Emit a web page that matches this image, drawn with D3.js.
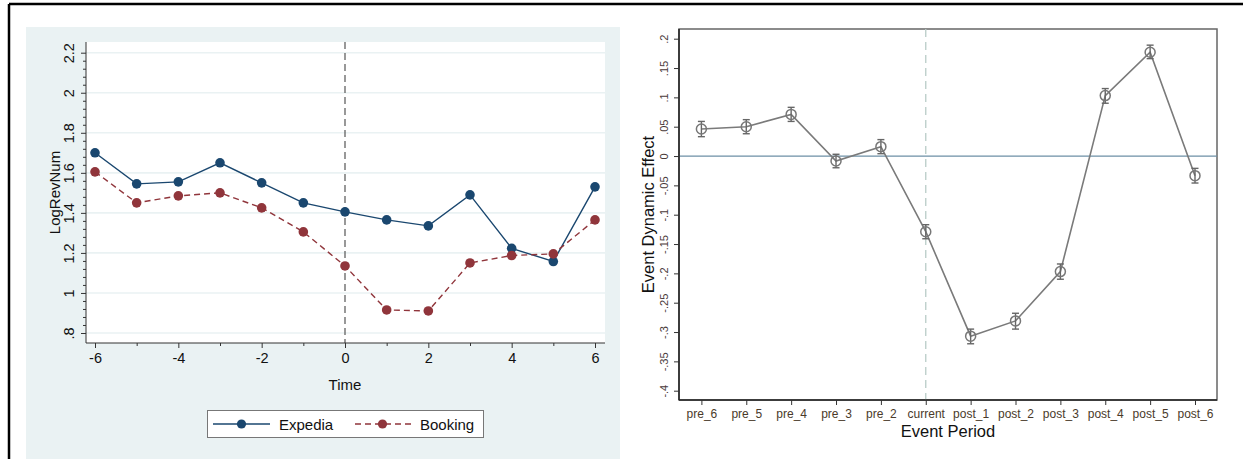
<!DOCTYPE html>
<html><head><meta charset="utf-8">
<script src="https://cdn.jsdelivr.net/npm/d3@7"></script>
<style>
html,body{margin:0;padding:0;background:#fff;}
svg{display:block;font-family:"Liberation Sans",Arial,sans-serif;}
</style></head>
<body>
<svg id="c" width="1243" height="459"></svg>
<script>
// ---------- Data: left panel ----------
const times = [-6,-5,-4,-3,-2,-1,0,1,2,3,4,5,6];
const expedia = [1.70,1.545,1.555,1.65,1.55,1.45,1.405,1.365,1.335,1.49,1.223,1.157,1.53];
const booking = [1.605,1.45,1.485,1.50,1.425,1.305,1.135,0.915,0.91,1.15,1.187,1.195,1.365];
const leftYTicks = [0.8,1.0,1.2,1.4,1.6,1.8,2.0,2.2];
const leftYTickLabels = [".8","1","1.2","1.4","1.6","1.8","2","2.2"];
const leftXTicks = [-6,-4,-2,0,2,4,6];
const seriesNames = ["Expedia","Booking"];

// ---------- Data: right panel ----------
const periods = ["pre_6","pre_5","pre_4","pre_3","pre_2","current","post_1","post_2","post_3","post_4","post_5","post_6"];
const effect = [0.046,0.050,0.071,-0.0085,0.016,-0.129,-0.307,-0.281,-0.197,0.103,0.177,-0.0335];
const ciLow  = [0.033,0.038,0.059,-0.020,0.004,-0.141,-0.320,-0.295,-0.210,0.090,0.166,-0.046];
const ciHigh = [0.059,0.062,0.083,0.003,0.028,-0.117,-0.295,-0.268,-0.184,0.115,0.189,-0.021];
const rightYTicks = [0.2,0.15,0.1,0.05,0,-0.05,-0.1,-0.15,-0.2,-0.25,-0.3,-0.35,-0.4];
const rightYTickLabels = [".2",".15",".1",".05","0","-.05","-.1","-.15","-.2","-.25","-.3","-.35","-.4"];

const svg = d3.select("#c");

// outer frame lines
svg.append("line").attr("x1",9).attr("x2",1243).attr("y1",4).attr("y2",4).attr("stroke","#000").attr("stroke-width",2.5);
svg.append("line").attr("x1",9).attr("x2",9).attr("y1",4).attr("y2",459).attr("stroke","#000").attr("stroke-width",2.5);

// ================= LEFT PANEL =================
const bg = "#eaf2f3";
svg.append("rect").attr("x",26).attr("y",27).attr("width",594).attr("height",432).attr("fill",bg);
const pL = {l:86, r:605, t:42, b:343};
svg.append("rect").attr("x",pL.l).attr("y",pL.t).attr("width",pL.r-pL.l).attr("height",pL.b-pL.t).attr("fill","#fff");

const xL = d3.scaleLinear().domain([-6,6]).range([95,595]);
const yL = d3.scaleLinear().domain([0.8,2.2]).range([333,52.7]);

// gridlines
svg.append("g").selectAll("line").data(leftYTicks).join("line")
  .attr("x1",pL.l).attr("x2",pL.r).attr("y1",d=>yL(d)).attr("y2",d=>yL(d))
  .attr("stroke",bg).attr("stroke-width",1.6);

// vertical dashed line at 0
svg.append("line").attr("x1",xL(0)).attr("x2",xL(0)).attr("y1",pL.t).attr("y2",pL.b)
  .attr("stroke","#555").attr("stroke-width",1.2).attr("stroke-dasharray","7,4");

// y axis
const yAxisL = svg.append("g").attr("transform",`translate(${pL.l},0)`)
  .call(d3.axisLeft(yL).tickValues(leftYTicks).tickSize(5).tickFormat((d,i)=>leftYTickLabels[i]));
const yMinor = d3.range(0.84,2.2,0.04).filter(v=>Math.abs(Math.round(v*5)-v*5)>0.01);
svg.append("g").attr("transform",`translate(${pL.l},0)`)
  .call(d3.axisLeft(yL).tickValues(yMinor).tickSize(3).tickFormat(""))
  .call(g=>g.select(".domain").remove());
yAxisL.select(".domain").attr("d",`M0,${pL.t}V${pL.b}`);
yAxisL.selectAll(".tick text").attr("transform","rotate(-90)").attr("x",0).attr("y",-12)
  .attr("dy",0).attr("text-anchor","middle").style("font-size","14.5px").attr("fill","#111");

// x axis
const xAxisL = svg.append("g").attr("transform",`translate(0,${pL.b})`)
  .call(d3.axisBottom(xL).tickValues(leftXTicks).tickSize(5).tickFormat(d3.format("d")));
svg.append("g").attr("transform",`translate(0,${pL.b})`)
  .call(d3.axisBottom(xL).tickValues([-5,-3,-1,1,3,5]).tickSize(3).tickFormat(""))
  .call(g=>g.select(".domain").remove());
xAxisL.select(".domain").attr("d",`M${pL.l},0H${pL.r}`);
xAxisL.selectAll(".tick text").attr("y",10).style("font-size","14.5px").attr("fill","#111")
  .text(d=>d<0?"-"+Math.abs(d):d);
svg.selectAll(".domain").attr("stroke","#333");
svg.selectAll(".tick line").attr("stroke","#333");

svg.append("text").attr("x",xL(0)).attr("y",390).attr("text-anchor","middle")
  .style("font-size","15px").attr("fill","#111").text("Time");
svg.append("text").attr("transform",`translate(60,${(pL.t+pL.b)/2}) rotate(-90)`)
  .attr("text-anchor","middle").style("font-size","15px").attr("fill","#111").text("LogRevNum");

const colE = "#1a476f", colB = "#90353b";
const lineL = d3.line().x((d,i)=>xL(times[i])).y(d=>yL(d));
svg.append("path").datum(expedia).attr("d",lineL).attr("fill","none").attr("stroke",colE).attr("stroke-width",1.4);
svg.append("path").datum(booking).attr("d",lineL).attr("fill","none").attr("stroke",colB).attr("stroke-width",1.4).attr("stroke-dasharray","6,4");
svg.append("g").selectAll("circle").data(expedia).join("circle")
  .attr("cx",(d,i)=>xL(times[i])).attr("cy",d=>yL(d)).attr("r",4.8).attr("fill",colE);
svg.append("g").selectAll("circle").data(booking).join("circle")
  .attr("cx",(d,i)=>xL(times[i])).attr("cy",d=>yL(d)).attr("r",4.8).attr("fill",colB);

// legend
const lg = svg.append("g");
lg.append("rect").attr("x",207.5).attr("y",410.5).attr("width",276).attr("height",27)
  .attr("fill","#fff").attr("stroke","#777").attr("stroke-width",1);
lg.append("line").attr("x1",213).attr("x2",270).attr("y1",424).attr("y2",424).attr("stroke",colE).attr("stroke-width",1.4);
lg.append("circle").attr("cx",241.5).attr("cy",424).attr("r",4.6).attr("fill",colE);
lg.append("text").attr("x",279).attr("y",429.5).style("font-size","15px").attr("fill","#111").text(seriesNames[0]);
lg.append("line").attr("x1",355).attr("x2",412).attr("y1",424).attr("y2",424).attr("stroke",colB).attr("stroke-width",1.4).attr("stroke-dasharray","6,4");
lg.append("circle").attr("cx",382.5).attr("cy",424).attr("r",4.6).attr("fill",colB);
lg.append("text").attr("x",420).attr("y",429.5).style("font-size","15px").attr("fill","#111").text(seriesNames[1]);

// ================= RIGHT PANEL =================
const pR = {l:679, r:1217, t:29, b:400};
const xR = d3.scalePoint().domain(periods).range([701.4,1195]);
const yR = d3.scaleLinear().domain([-0.4,0.2]).range([390.7,38.7]);

svg.append("rect").attr("x",pR.l).attr("y",pR.t).attr("width",pR.r-pR.l).attr("height",pR.b-pR.t)
  .attr("fill","#fff").attr("stroke","#666").attr("stroke-width",1.5);

// zero line
svg.append("line").attr("x1",pR.l).attr("x2",pR.r).attr("y1",yR(0)).attr("y2",yR(0))
  .attr("stroke","#6d8fa6").attr("stroke-width",1.3);
// current dashed
svg.append("line").attr("x1",xR("current")).attr("x2",xR("current")).attr("y1",pR.t).attr("y2",pR.b)
  .attr("stroke","#b9ccc7").attr("stroke-width",1.3).attr("stroke-dasharray","8,5");

const yAxR = svg.append("g").attr("transform",`translate(${pR.l},0)`)
  .call(d3.axisLeft(yR).tickValues(rightYTicks).tickSize(5).tickFormat((d,i)=>rightYTickLabels[i]));
yAxR.select(".domain").attr("d",`M0,${pR.t}V${pR.b}`).attr("stroke","#222").attr("stroke-width",1.5);
yAxR.selectAll(".tick line").attr("stroke","#333");
yAxR.selectAll(".tick text").attr("transform","rotate(-90)").attr("x",0).attr("y",-11)
  .attr("dy",0).attr("text-anchor","middle").style("font-size","11px").attr("fill","#4a3a3a");

const xAxR = svg.append("g").attr("transform",`translate(0,${pR.b})`)
  .call(d3.axisBottom(xR).tickSize(5));
xAxR.select(".domain").attr("d",`M${pR.l},0H${pR.r}`).attr("stroke","#222").attr("stroke-width",1.5);
xAxR.selectAll(".tick line").attr("stroke","#333");
xAxR.selectAll(".tick text").attr("y",9).style("font-size","12px").attr("fill","#4a3a2a");

svg.append("text").attr("x",948).attr("y",437).attr("text-anchor","middle")
  .style("font-size","16.5px").attr("fill","#111").text("Event Period");
svg.append("text").attr("transform",`translate(654,${(pR.t+pR.b)/2}) rotate(-90)`)
  .attr("text-anchor","middle").style("font-size","16.5px").attr("fill","#111").text("Event Dynamic Effect");

const gcol = "#7a7a7a";
const lineR = d3.line().x((d,i)=>xR(periods[i])).y(d=>yR(d));
svg.append("path").datum(effect).attr("d",lineR).attr("fill","none").attr("stroke",gcol).attr("stroke-width",1.6);
const eb = svg.append("g").attr("stroke","#666").attr("stroke-width",1.4);
periods.forEach((p,i)=>{
  const x = xR(p);
  eb.append("line").attr("x1",x).attr("x2",x).attr("y1",yR(ciLow[i])).attr("y2",yR(ciHigh[i]));
  eb.append("line").attr("x1",x-3.5).attr("x2",x+3.5).attr("y1",yR(ciLow[i])).attr("y2",yR(ciLow[i]));
  eb.append("line").attr("x1",x-3.5).attr("x2",x+3.5).attr("y1",yR(ciHigh[i])).attr("y2",yR(ciHigh[i]));
});
svg.append("g").selectAll("circle").data(effect).join("circle")
  .attr("cx",(d,i)=>xR(periods[i])).attr("cy",d=>yR(d)).attr("r",5)
  .attr("fill","none").attr("stroke","#777").attr("stroke-width",1.5);
</script>
</body></html>
